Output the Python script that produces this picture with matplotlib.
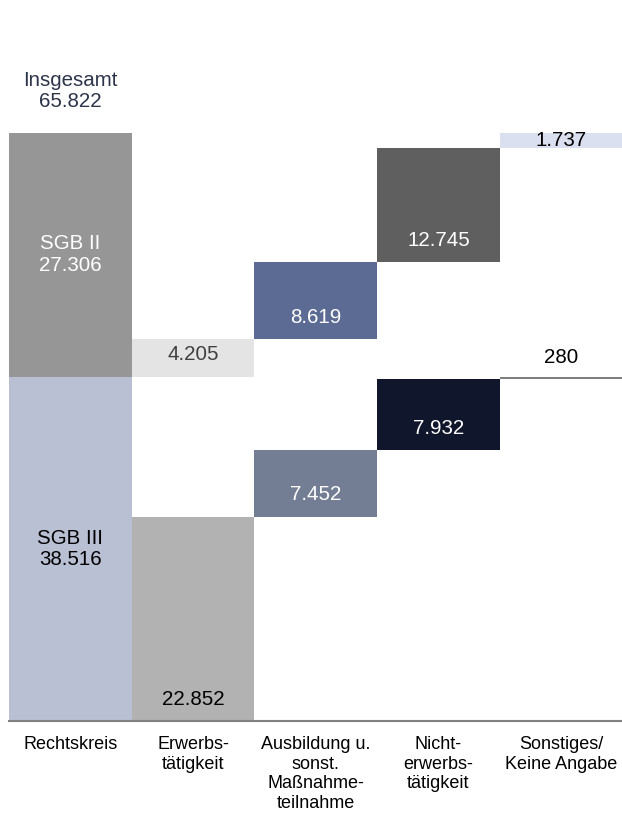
"""Waterfall-style breakdown of SGB II / SGB III totals by activity."""

import matplotlib
matplotlib.use('Agg')
import matplotlib.pyplot as plt
from matplotlib.patches import Rectangle

plt.rcParams['font.family'] = ['Liberation Sans', 'DejaVu Sans']

# Data
categories = ['Rechtskreis', 'Erwerbs-\ntätigkeit',
              'Ausbildung u.\nsonst.\nMaßnahme-\nteilnahme',
              'Nicht-\nerwerbs-\ntätigkeit', 'Sonstiges/\nKeine Angabe']
rechtskreis_names = ['SGB III', 'SGB II']
rechtskreis_values = [38516, 27306]
sgb3_values = [22852, 7452, 7932, 280]
sgb2_values = [4205, 8619, 12745, 1737]

# Colours
rk_colors = ['#b9c0d3', '#969696']
rk_text = ['black', 'white']
sgb3_colors = ['#b2b2b2', '#737d93', '#10162b', '#7f7f7f']
sgb3_text = ['black', 'white', 'white', 'black']
sgb2_colors = ['#e4e4e4', '#5c6b94', '#5f5f5f', '#dae0f0']
sgb2_text = ['#404040', 'white', 'white', 'black']


def fmt(v):
    return '{:,}'.format(v).replace(',', '.')


fig = plt.figure(figsize=(6.22, 8.17), dpi=100)
ax = fig.add_axes([9 / 622, 96 / 817, 613.5 / 622, 721 / 817])
ax.set_xlim(-0.5, 4.5)
ax.set_ylim(0, 80650)

# Rechtskreis column (stacked)
bottom = 0
for name, val, col, tc in zip(rechtskreis_names, rechtskreis_values,
                              rk_colors, rk_text):
    ax.bar(0, val, width=1.0, bottom=bottom, color=col, linewidth=0)
    ax.text(0, bottom + val / 2, '{}\n{}'.format(name, fmt(val)),
            ha='center', va='center', color=tc, fontsize=14.8,
            linespacing=1.15)
    bottom += val
total = bottom
ax.annotate('Insgesamt\n{}'.format(fmt(total)), xy=(0, total),
            xytext=(0, 30), textcoords='offset points', ha='center',
            va='center', color='#2c3449', fontsize=14.8, linespacing=1.15)

# Activity columns: SGB III part stacked from 0, SGB II part on top
for values, colors, tcolors, start in [
        (sgb3_values, sgb3_colors, sgb3_text, 0),
        (sgb2_values, sgb2_colors, sgb2_text, sum(sgb3_values))]:
    bottom = start
    for i, (val, col, tc) in enumerate(zip(values, colors, tcolors)):
        x = i + 1
        bars = ax.bar(x, val, width=1.0, bottom=bottom, color=col,
                      linewidth=0)
        if bottom + val == total:
            # thin top bar: label centred and clipped by the bar
            t = ax.text(x, bottom + val / 2, fmt(val), ha='center',
                        va='center', color=tc, fontsize=14.8)
            t.set_clip_path(bars[0])
        else:
            ax.annotate(fmt(val), xy=(x, bottom), xytext=(0, 15.8),
                        textcoords='offset points', ha='center',
                        va='center', color=tc, fontsize=14.8)
        bottom += val

# Axes styling
for side in ['top', 'right', 'left']:
    ax.spines[side].set_visible(False)
ax.spines['bottom'].set_color('#808080')
ax.spines['bottom'].set_linewidth(1.5)
ax.set_yticks([])
ax.set_xticks(range(len(categories)))
ax.set_xticklabels(categories, fontsize=13, linespacing=1.2)
ax.tick_params(axis='x', length=0, pad=11)

fig.savefig('out.png', dpi=100)
